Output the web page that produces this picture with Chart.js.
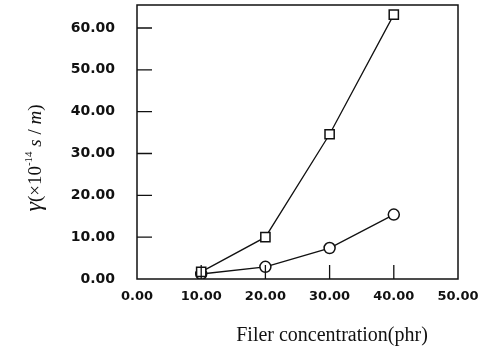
<!DOCTYPE html>
<html lang="en">
<head>
    <meta charset="UTF-8">
    <title>Filer concentration</title>
    <script src="https://cdn.jsdelivr.net/npm/chart.js"></script>
    <style>
        html, body { margin: 0; padding: 0; background: #fff; }
        .chart-container { width: 491px; height: 354px; }
    </style>
</head>
<body>
    <div class="chart-container">
        <canvas id="filerChart" width="491" height="354"></canvas>
    </div>

    <script>
        // data
        const concentration = [10, 20, 30, 40];
        const squareSeries = [1.7, 10.0, 34.6, 63.2];
        const circleSeries = [1.2, 2.9, 7.4, 15.4];
        const xTicks = [0, 10, 20, 30, 40, 50];
        const yTicks = [0, 10, 20, 30, 40, 50, 60];

        // box round the plot, inward tick marks and the two axis titles
        const framePlugin = {
            id: 'frame',
            afterDraw(chart) {
                const { ctx, chartArea: a, scales } = chart;
                ctx.save();
                ctx.strokeStyle = '#111';
                ctx.lineWidth = 1.5;
                ctx.strokeRect(a.left, a.top, a.right - a.left, a.bottom - a.top);

                ctx.lineWidth = 1.3;
                ctx.beginPath();
                yTicks.slice(1).forEach(v => {
                    const y = scales.y.getPixelForValue(v);
                    ctx.moveTo(a.left, y);
                    ctx.lineTo(a.left + 15, y);
                });
                xTicks.slice(1, -1).forEach(v => {
                    const x = scales.x.getPixelForValue(v);
                    ctx.moveTo(x, a.bottom);
                    ctx.lineTo(x, a.bottom - 14);
                });
                ctx.stroke();

                // x title
                ctx.fillStyle = '#111';
                ctx.font = '20px "Liberation Serif"';
                ctx.textAlign = 'center';
                ctx.textBaseline = 'alphabetic';
                ctx.fillText('Filer concentration(phr)', 332, 341);

                // y title, rotated, mixed styles
                ctx.translate(35, 158);
                ctx.rotate(-Math.PI / 2);
                const parts = [
                    { t: 'γ', f: 'italic 24px "Liberation Serif"', dy: 0 },
                    { t: '(×10', f: '19px "Liberation Serif"', dy: 0 },
                    { t: '-14', f: '11px "Liberation Serif"', dy: -9 },
                    { t: ' s', f: 'italic 19px "Liberation Serif"', dy: 0 },
                    { t: ' / ', f: '19px "Liberation Serif"', dy: 0 },
                    { t: 'm', f: 'italic 19px "Liberation Serif"', dy: 0 },
                    { t: ')', f: '19px "Liberation Serif"', dy: 0 }
                ];
                let total = 0;
                parts.forEach(p => { ctx.font = p.f; total += ctx.measureText(p.t).width; });
                let x = -total / 2;
                ctx.textAlign = 'left';
                parts.forEach(p => {
                    ctx.font = p.f;
                    ctx.fillText(p.t, x, 6 + p.dy);
                    x += ctx.measureText(p.t).width;
                });
                ctx.restore();
            }
        };

        const ctx = document.getElementById('filerChart').getContext('2d');
        new Chart(ctx, {
            type: 'line',
            data: {
                datasets: [
                    {
                        label: 'square',
                        data: concentration.map((c, i) => ({ x: c, y: squareSeries[i] })),
                        borderColor: '#111',
                        borderWidth: 1.3,
                        pointStyle: 'rect',
                        pointRadius: 6.5,
                        pointBorderWidth: 1.5,
                        pointBorderColor: '#111',
                        pointBackgroundColor: '#fff'
                    },
                    {
                        label: 'circle',
                        data: concentration.map((c, i) => ({ x: c, y: circleSeries[i] })),
                        borderColor: '#111',
                        borderWidth: 1.3,
                        pointStyle: 'circle',
                        pointRadius: 5.5,
                        pointBorderWidth: 1.5,
                        pointBorderColor: '#111',
                        pointBackgroundColor: '#fff'
                    }
                ]
            },
            options: {
                responsive: false,
                animation: false,
                layout: { autoPadding: false, padding: { top: 5, right: 33, left: 0, bottom: 0 } },
                plugins: {
                    legend: { display: false },
                    tooltip: { enabled: false }
                },
                scales: {
                    x: {
                        type: 'linear',
                        min: 0,
                        max: 50,
                        afterBuildTicks: s => { s.ticks = xTicks.map(v => ({ value: v })); },
                        afterFit: s => {
                            s.height = 75;
                            s.paddingLeft = 0;
                            s.paddingRight = 0;
                        },
                        grid: { display: false },
                        border: { display: false },
                        ticks: {
                            font: { family: 'DejaVu Sans', size: 13, weight: 'bold' },
                            color: '#111',
                            padding: 2,
                            maxRotation: 0,
                            callback: v => v.toFixed(2)
                        }
                    },
                    y: {
                        min: 0,
                        max: 65.5,
                        afterBuildTicks: s => { s.ticks = yTicks.map(v => ({ value: v })); },
                        afterFit: s => {
                            s.width = 137;
                            s.paddingTop = 0;
                            s.paddingBottom = 0;
                        },
                        grid: { display: false },
                        border: { display: false },
                        ticks: {
                            font: { family: 'DejaVu Sans', size: 14, weight: 'bold' },
                            color: '#111',
                            padding: 14,
                            callback: v => v.toFixed(2)
                        }
                    }
                }
            },
            plugins: [framePlugin]
        });
    </script>
</body>
</html>
